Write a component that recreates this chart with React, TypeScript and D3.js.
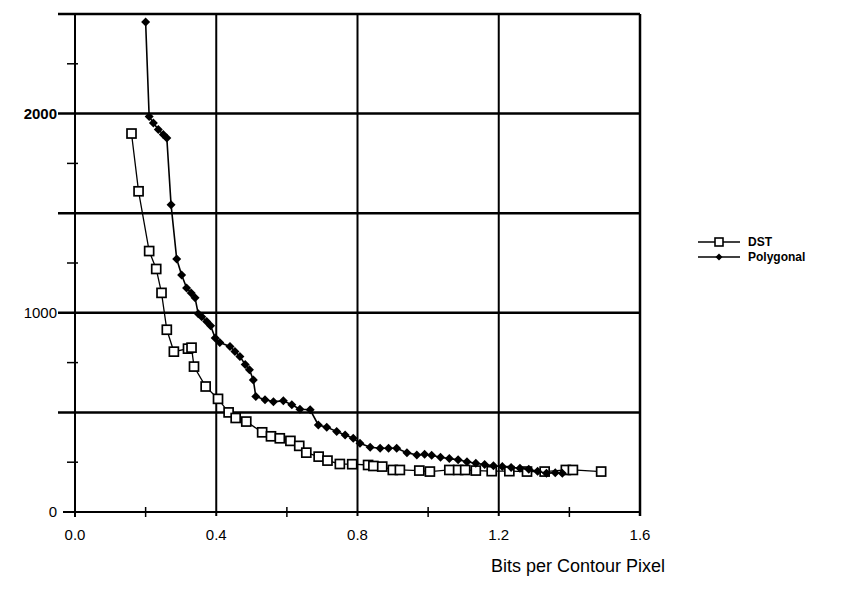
import * as d3 from "d3";

// DST series: [bits per contour pixel, value]
const dstX = [
  0.16, 0.18, 0.21, 0.23, 0.245, 0.26, 0.28, 0.32, 0.33, 0.337, 0.37, 0.405,
  0.435, 0.455, 0.485, 0.53, 0.555, 0.58, 0.61, 0.635, 0.655, 0.69, 0.715,
  0.75, 0.785, 0.83, 0.845, 0.87, 0.9, 0.92, 0.975, 1.005, 1.06, 1.085, 1.105,
  1.135, 1.18, 1.23, 1.28, 1.33, 1.39, 1.41, 1.49,
];
const dstY = [
  1900, 1610, 1310, 1220, 1100, 915, 805, 820, 825, 730, 630, 568, 500, 472,
  454, 400, 380, 370, 357, 332, 298, 278, 258, 241, 240, 236, 231, 228, 211,
  211, 208, 203, 211, 211, 211, 208, 205, 205, 203, 203, 211, 211, 203,
];

const polyX = [
  0.2, 0.21, 0.222, 0.236, 0.25, 0.26, 0.272, 0.288, 0.302, 0.316, 0.329, 0.34,
  0.349, 0.359, 0.373, 0.384, 0.397, 0.41, 0.439, 0.453, 0.467, 0.482, 0.494,
  0.505, 0.512, 0.538, 0.562, 0.59, 0.614, 0.637, 0.666, 0.689, 0.713, 0.741,
  0.765, 0.788, 0.807, 0.836, 0.864, 0.888, 0.911, 0.94, 0.968, 0.99, 1.01,
  1.035, 1.06, 1.085, 1.11, 1.135, 1.16, 1.185, 1.21, 1.235, 1.26, 1.285, 1.31,
  1.335, 1.36, 1.38,
];
const polyY = [
  2460, 1985, 1953, 1920, 1895, 1878, 1543, 1270, 1190, 1125, 1100, 1075, 995,
  980, 956, 935, 873, 851, 831, 806, 781, 740, 714, 663, 580, 563, 554, 558,
  538, 516, 513, 437, 426, 404, 387, 370, 345, 325, 320, 320, 320, 298, 286,
  290, 285, 275, 268, 262, 252, 245, 238, 232, 228, 224, 220, 214, 205, 195,
  197, 195,
];

const xTicks = [0, 0.4, 0.8, 1.2, 1.6];
const xMinor = [0.2, 0.6, 1.0, 1.4];
const yLabels = [0, 1000, 2000];
const yGrid = [500, 1000, 1500, 2000, 2500];
const yMinor = [250, 750, 1250, 1750, 2250];

const seriesNames = ["DST", "Polygonal"];

export default function App() {
  const width = 853;
  const height = 602;
  const left = 75;
  const right = 640;
  const top = 14;
  const bottom = 512;

  const x = d3.scaleLinear([0, 1.6], [left, right]);
  const y = d3.scaleLinear([0, 2500], [bottom, top]);

  const dst = dstX.map((v, i) => [v, dstY[i]] as [number, number]);
  const poly = polyX.map((v, i) => [v, polyY[i]] as [number, number]);

  const line = d3
    .line<[number, number]>()
    .x((d) => x(d[0]))
    .y((d) => y(d[1]));

  const diamond = (cx: number, cy: number, r: number) =>
    `M${cx},${cy - r}L${cx + r},${cy}L${cx},${cy + r}L${cx - r},${cy}Z`;

  const font = "Arial, 'Liberation Sans', sans-serif";

  return (
    <>
      <style>{`body{margin:0}`}</style>
      <svg width={width} height={height} style={{ display: "block", background: "#fff" }}>
        {/* horizontal grid lines, extending left past the axis */}
        {yGrid.map((v) => (
          <line key={"h" + v} x1={left - 17} x2={right} y1={y(v)} y2={y(v)} stroke="#000" strokeWidth={2.5} />
        ))}
        {/* vertical grid lines */}
        {xTicks.slice(1).map((v) => (
          <line key={"v" + v} x1={x(v)} x2={x(v)} y1={top} y2={bottom + 4} stroke="#000" strokeWidth={v === 1.6 ? 2.5 : 2} />
        ))}
        {/* axes */}
        <line x1={left} x2={left} y1={top} y2={bottom + 5} stroke="#000" strokeWidth={2} />
        <line x1={left - 12} x2={right} y1={bottom} y2={bottom} stroke="#000" strokeWidth={2} />
        {yMinor.map((v) => (
          <line key={"ym" + v} x1={left - 8} x2={left + 3} y1={y(v)} y2={y(v)} stroke="#000" strokeWidth={1.5} />
        ))}
        {xMinor.map((v) => (
          <line key={"xm" + v} x1={x(v)} x2={x(v)} y1={bottom - 5} y2={bottom + 5} stroke="#000" strokeWidth={1.5} />
        ))}
        {/* tick labels */}
        {yLabels.map((v) => (
          <text key={"yl" + v} x={left - 18} y={y(v)} dy="0.35em" textAnchor="end" fontFamily={font} fontSize={15} fontWeight={v === 2000 ? "bold" : "normal"}>
            {v}
          </text>
        ))}
        {xTicks.map((v) => (
          <text key={"xl" + v} x={x(v)} y={bottom + 28} textAnchor="middle" fontFamily={font} fontSize={15}>
            {v.toFixed(1)}
          </text>
        ))}
        <text x={578} y={572} textAnchor="middle" fontFamily={font} fontSize={18}>
          Bits per Contour Pixel
        </text>

        {/* DST series */}
        <path d={line(dst) ?? ""} fill="none" stroke="#000" strokeWidth={1.3} />
        {dst.map((d, i) => (
          <rect key={"d" + i} x={x(d[0]) - 4.5} y={y(d[1]) - 4.5} width={9} height={9} fill="#fff" stroke="#000" strokeWidth={1.7} />
        ))}

        {/* Polygonal series */}
        <path d={line(poly) ?? ""} fill="none" stroke="#000" strokeWidth={1.6} />
        {poly.map((d, i) => (
          <path key={"p" + i} d={diamond(x(d[0]), y(d[1]), 4.5)} fill="#000" />
        ))}

        {/* legend */}
        <g fontFamily={font} fontSize={12} fontWeight="bold">
          <line x1={698} x2={740} y1={242} y2={242} stroke="#000" strokeWidth={1.3} />
          <rect x={715} y={238} width={8} height={8} fill="#fff" stroke="#000" strokeWidth={1.6} />
          <text x={748} y={246}>{seriesNames[0]}</text>
          <line x1={698} x2={740} y1={257} y2={257} stroke="#000" strokeWidth={1.5} />
          <path d={diamond(719, 257, 3.5)} fill="#000" />
          <text x={748} y={261}>{seriesNames[1]}</text>
        </g>
      </svg>
    </>
  );
}
